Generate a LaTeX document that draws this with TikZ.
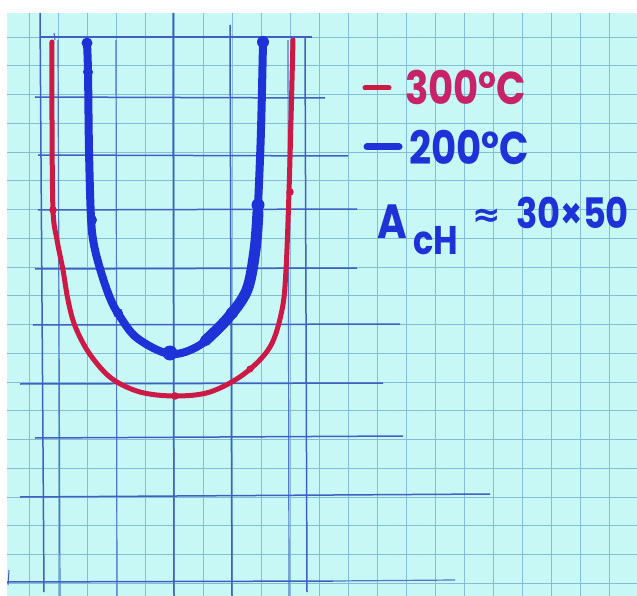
\documentclass[tikz,border=0pt]{standalone}
\usepackage{fontspec}
\setmainfont{Poppins}
\newfontfamily\handfont[FakeStretch=0.84]{Poppins}
\newfontfamily\symfont{DejaVu Sans}
\definecolor{paper}{RGB}{200,248,246}
\definecolor{fineline}{RGB}{130,190,215}
\definecolor{handline}{RGB}{65,95,195}
\definecolor{redpen}{RGB}{205,25,70}
\definecolor{redtext}{RGB}{200,35,105}
\definecolor{bluepen}{RGB}{30,50,215}
\tikzset{
  fine/.style={draw=fineline, line width=0.9pt},
  hand/.style={draw=handline, line width=1.5pt},
  handmid/.style={draw=handline!75!fineline, line width=1.2pt},
  redcurve/.style={draw=redpen, line width=5pt, line cap=round, line join=round},
  bluecurve/.style={draw=bluepen, line width=8pt, line cap=round, line join=round},
  label/.style={inner sep=0pt, anchor=base west, font=\handfont\bfseries\fontsize{46}{48}\selectfont},
}
\begin{document}
\begin{tikzpicture}[x=1pt,y=-1pt]
\useasboundingbox (0,0) rectangle (637,596);
\fill[white] (0,0) rectangle (637,596);
\fill[paper] (7,13) rectangle (637,596);
% fine grid
\foreach \k in {1,...,21} \draw[fine] (29*\k,13) -- (29*\k,596);
\foreach \k in {0,...,19} \draw[fine] (7,37+28.75*\k) -- (637,37+28.75*\k);
% hand drawn grid
\draw[hand] (40,13) -- (44,592);
\draw[handmid] (58,40) -- (60,596);
\draw[handmid] (116,40) -- (117,596);
\draw[hand] (173,13) -- (174,596);
\draw[hand] (230,25) -- (232,596);
\draw[handmid] (288,40) -- (289,596);
\draw[hand] (305,37) -- (307,592);
\draw[hand] (40,37) -- (312,37);
\draw[hand] (35,97) -- (325,98);
\draw[hand] (38,155) -- (348,156);
\draw[hand] (38,210) -- (357,209);
\draw[hand] (35,269) -- (357,268);
\draw[hand] (33,325) -- (400,324);
\draw[hand] (20,384) -- (383,383);
\draw[hand] (35,438) -- (403,436);
\draw[hand] (20,497) -- (490,494);
\draw[hand] (7,582) -- (333,581);
\draw[handmid] (333,581) -- (455,580);
\draw[handline, line width=1pt] (54,33) -- (55,40);
\draw[handline, line width=1pt] (9,570) -- (8,585);
% red curve (300 C)
\draw[redcurve] plot[smooth, tension=0.55] coordinates {
  (52,42) (52,120) (53,210) (57,240) (63,270) (68,300) (75,326) (89,353)
  (111,378) (140,392) (175,396) (210,392) (244,374) (270,347) (282,310)
  (286,270) (289,192) (291,120) (293,40)};
\fill[redpen] (53,210) circle (3.8pt) (290,192) circle (3.8pt) (175,396) circle (3.8pt) (250,369) circle (3.5pt);
% blue curve (200 C)
\draw[bluecurve] plot[smooth, tension=0.55] coordinates {
  (87,43) (88,72) (89,150) (91,218) (94,245) (101,272) (110,298) (119,315)
  (137,338) (170,354) (200,345) (228,318) (247,290) (255,250) (258,205)
  (261,130) (263,42)};
\draw[bluepen, line width=11pt, line cap=round] plot[smooth, tension=0.55] coordinates {
  (205,341) (228,318) (247,290) (255,250) (258,212)};
\fill[bluepen] (87,43) circle (5.5pt) (88,72) circle (5pt) (92,220) circle (5pt)
  (170,353) circle (7.5pt) (258,205) circle (6.5pt) (263,42) circle (6pt) (118,313) circle (5pt) (232,313) circle (6pt);
% legend
\draw[redpen, line width=5pt, line cap=round] (365,88) -- (389,88);
\draw[bluepen, line width=7pt, line cap=round] (367,147) -- (399,147);
\node[label, text=redtext] (t300) at (405,105) {300°C};
\node[label, text=bluepen] (t200) at (409,165) {200°C};
\node[label, text=bluepen, font=\handfont\bfseries\fontsize{48}{50}\selectfont] (tA) at (377,238) {A};
\node[label, text=bluepen, font=\handfont\bfseries\fontsize{40}{42}\selectfont] (tcH) at (413,254) {cH};
\node[label, text=bluepen, font=\symfont\bfseries\fontsize{34}{36}\selectfont] (tapprox) at (472,226) {≈};
\node[label, text=bluepen, font=\handfont\bfseries\fontsize{42}{44}\selectfont] (tnum) at (516,229) {30×50};
\end{tikzpicture}
\end{document}
